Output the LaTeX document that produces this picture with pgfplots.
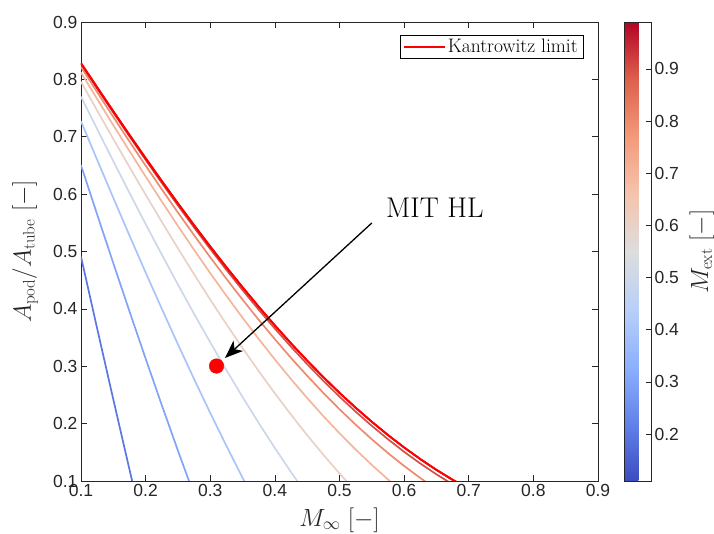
\documentclass[border=0pt]{standalone}
\usepackage{pgfplots}
\pgfplotsset{compat=1.18}
\usepackage{fontspec}
\newfontfamily\ticksf{Liberation Sans}
\usetikzlibrary{arrows.meta}
\definecolor{axgray}{RGB}{38,38,38}
\definecolor{c02}{RGB}{91,120,226}
\definecolor{c03}{RGB}{129,164,248}
\definecolor{c04}{RGB}{168,196,251}
\definecolor{c05}{RGB}{204,215,234}
\definecolor{c06}{RGB}{232,210,199}
\definecolor{c07}{RGB}{245,181,155}
\definecolor{c08}{RGB}{238,138,110}
\definecolor{c09}{RGB}{214,79,70}
\definecolor{c10}{RGB}{180,4,38}
\begin{document}
\begin{tikzpicture}[x=1pt,y=1pt]
\path[use as bounding box] (0,0) rectangle (714,534);
\begin{axis}[
  at={(81pt,53pt)}, anchor=south west,
  scale only axis, width=517pt, height=459pt,
  xmin=0.1, xmax=0.9, ymin=0.1, ymax=0.9,
  xtick={0.1,0.2,0.3,0.4,0.5,0.6,0.7,0.8,0.9},
  xticklabels={0.1,0.2,0.3,0.4,0.5,0.6,0.7,0.8,0.9},
  ytick={0.1,0.2,0.3,0.4,0.5,0.6,0.7,0.8,0.9},
  yticklabels={0.1,0.2,0.3,0.4,0.5,0.6,0.7,0.8,0.9},
  /pgf/number format/assume math mode=true,
  tick align=inside, major tick length=6pt,
  axis line style={draw=axgray, line width=0.7pt},
  every tick/.style={axgray, line width=0.7pt},
  ticklabel style={font=\ticksf\fontsize{17.5}{20}\selectfont, text=axgray},
  xlabel={$M_\infty\ [-]$},
  ylabel={$A_{\mathrm{pod}}/A_{\mathrm{tube}}\ [-]$},
  label style={font=\fontsize{24}{28}\selectfont, text=axgray},
  xlabel style={at={(axis description cs:0.5,0)}, anchor=center, yshift=-39pt},
  ylabel style={at={(axis description cs:0,0.5)}, anchor=center, yshift=56pt},
  colormap={coolwarm}{rgb255=(59,76,192) rgb255=(98,130,234) rgb255=(141,176,254) rgb255=(184,208,249) rgb255=(221,221,221) rgb255=(245,196,173) rgb255=(244,154,123) rgb255=(222,96,77) rgb255=(180,4,38)},
  point meta min=0.11, point meta max=0.99,
  colorbar,
  colorbar style={
    at={(parent axis.north east)}, anchor=north west, xshift=17.5pt,
    scale only axis, width=27pt, height=459pt,
    ytick={0.2,0.3,0.4,0.5,0.6,0.7,0.8,0.9},
    yticklabels={0.2,0.3,0.4,0.5,0.6,0.7,0.8,0.9},
    ytick pos=right, yticklabel pos=right,
    tick align=inside, major tick length=5pt,
    axis line style={draw=axgray, line width=0.7pt},
    every tick/.style={axgray, line width=0.7pt},
    yticklabel style={font=\ticksf\fontsize{17.5}{20}\selectfont, text=axgray},
    ylabel={$M_{\mathrm{ext}}\ [-]$},
    ylabel style={at={(axis description cs:1,0.5)}, anchor=base, yshift=-57pt, font=\fontsize{24}{28}\selectfont, text=axgray},
  },
  legend style={at={(0.971,0.9717)}, anchor=north east, draw=black, line width=0.5pt,
    font=\fontsize{19.5}{22}\selectfont, inner xsep=3pt, inner ysep=2pt},
  legend image code/.code={\draw[#1] (0pt,0pt) -- (41pt,0pt);},
]
\addplot[c02, line width=1.7pt, forget plot] coordinates {(0.100,0.4910) (0.125,0.3658) (0.150,0.2421) (0.175,0.1201) (0.200,0.0000)};
\addplot[c03, line width=1.7pt, forget plot] coordinates {(0.100,0.6504) (0.125,0.5645) (0.150,0.4796) (0.175,0.3958) (0.200,0.3133) (0.225,0.2323) (0.250,0.1530) (0.275,0.0755)};
\addplot[c04, line width=1.7pt, forget plot] coordinates {(0.100,0.7269) (0.125,0.6597) (0.150,0.5934) (0.175,0.5279) (0.200,0.4634) (0.225,0.4002) (0.250,0.3382) (0.275,0.2776) (0.300,0.2186) (0.325,0.1613) (0.350,0.1056) (0.375,0.0519)};
\addplot[c05, line width=1.7pt, forget plot] coordinates {(0.100,0.7699) (0.125,0.7133) (0.150,0.6574) (0.175,0.6022) (0.200,0.5479) (0.225,0.4946) (0.250,0.4424) (0.275,0.3913) (0.300,0.3416) (0.325,0.2933) (0.350,0.2464) (0.375,0.2011) (0.400,0.1574) (0.425,0.1154) (0.450,0.0751)};
\addplot[c06, line width=1.7pt, forget plot] coordinates {(0.100,0.7959) (0.125,0.7457) (0.150,0.6961) (0.175,0.6472) (0.200,0.5991) (0.225,0.5518) (0.250,0.5055) (0.275,0.4602) (0.300,0.4161) (0.325,0.3733) (0.350,0.3317) (0.375,0.2915) (0.400,0.2528) (0.425,0.2155) (0.450,0.1798) (0.475,0.1457) (0.500,0.1132) (0.525,0.0823)};
\addplot[c07, line width=1.7pt, forget plot] coordinates {(0.100,0.8120) (0.125,0.7658) (0.150,0.7201) (0.175,0.6751) (0.200,0.6307) (0.225,0.5872) (0.250,0.5445) (0.275,0.5029) (0.300,0.4622) (0.325,0.4228) (0.350,0.3845) (0.375,0.3475) (0.400,0.3118) (0.425,0.2775) (0.450,0.2446) (0.475,0.2131) (0.500,0.1832) (0.525,0.1548) (0.550,0.1280) (0.575,0.1027) (0.600,0.0790)};
\addplot[c08, line width=1.7pt, forget plot] coordinates {(0.100,0.8217) (0.125,0.7778) (0.150,0.7345) (0.175,0.6917) (0.200,0.6497) (0.225,0.6084) (0.250,0.5679) (0.275,0.5284) (0.300,0.4898) (0.325,0.4524) (0.350,0.4161) (0.375,0.3809) (0.400,0.3471) (0.425,0.3145) (0.450,0.2833) (0.475,0.2535) (0.500,0.2251) (0.525,0.1982) (0.550,0.1727) (0.575,0.1487) (0.600,0.1262) (0.625,0.1052) (0.650,0.0858)};
\addplot[c09, line width=1.7pt, forget plot] coordinates {(0.100,0.8267) (0.125,0.7841) (0.150,0.7420) (0.175,0.7005) (0.200,0.6596) (0.225,0.6194) (0.250,0.5801) (0.275,0.5417) (0.300,0.5043) (0.325,0.4679) (0.350,0.4326) (0.375,0.3985) (0.400,0.3655) (0.425,0.3339) (0.450,0.3036) (0.475,0.2746) (0.500,0.2470) (0.525,0.2209) (0.550,0.1961) (0.575,0.1728) (0.600,0.1509) (0.625,0.1305) (0.650,0.1116) (0.675,0.0942)};
\addplot[c10, line width=1.7pt, forget plot] coordinates {(0.100,0.8282) (0.125,0.7860) (0.150,0.7443) (0.175,0.7031) (0.200,0.6626) (0.225,0.6228) (0.250,0.5838) (0.275,0.5457) (0.300,0.5086) (0.325,0.4725) (0.350,0.4376) (0.375,0.4037) (0.400,0.3711) (0.425,0.3398) (0.450,0.3097) (0.475,0.2810) (0.500,0.2536) (0.525,0.2277) (0.550,0.2032) (0.575,0.1801) (0.600,0.1584) (0.625,0.1382) (0.650,0.1194) (0.675,0.1021) (0.700,0.0862)};
\addplot[red, line width=2pt] coordinates {(0.100,0.8282) (0.125,0.7860) (0.150,0.7443) (0.175,0.7031) (0.200,0.6626) (0.225,0.6228) (0.250,0.5838) (0.275,0.5457) (0.300,0.5086) (0.325,0.4725) (0.350,0.4376) (0.375,0.4037) (0.400,0.3711) (0.425,0.3398) (0.450,0.3097) (0.475,0.2810) (0.500,0.2536) (0.525,0.2277) (0.550,0.2032) (0.575,0.1801) (0.600,0.1584) (0.625,0.1382) (0.650,0.1194) (0.675,0.1021) (0.700,0.0862)};
\addlegendentry{Kantrowitz limit}
\addplot[only marks, mark=*, mark size=7.3pt, red, forget plot] coordinates {(0.3097,0.3004)};
\draw[-{Stealth[length=18pt,width=14pt,inset=5pt]}, line width=1.3pt, black] (axis cs:0.550,0.5497) -- (axis cs:0.3228,0.3144);
\node[anchor=base west, font=\fontsize{28.5}{32}\selectfont, inner sep=0pt] at (axis cs:0.572,0.560) {MIT HL};
\end{axis}
\end{tikzpicture}
\end{document}
